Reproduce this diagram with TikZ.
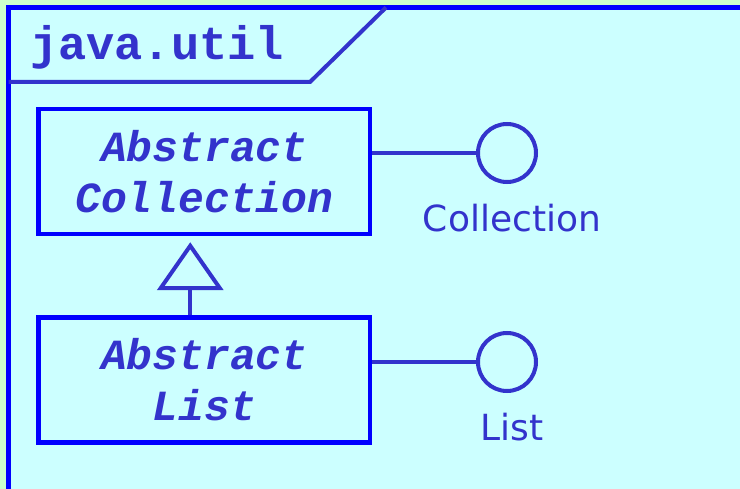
\documentclass[tikz,border=0pt]{standalone}
\usepackage{fontspec}
\setmainfont{DejaVu Sans}
\newfontfamily\umlmono{Liberation Mono}
\usepackage{tikz}
\usetikzlibrary{positioning, arrows.meta}
\definecolor{pagegreen}{HTML}{CCFFCC}
\definecolor{pkgfill}{HTML}{CCFFFF}
\definecolor{pkgblue}{HTML}{0000FF}
\definecolor{umlink}{HTML}{3333CC}

\begin{document}
\begin{tikzpicture}[
      x=1pt, y=-1pt,
      umlclass/.style={draw=pkgblue, line width=4.5pt, fill=pkgfill, minimum width=331.5pt, minimum height=125pt, align=center, inner sep=0pt, text=umlink, font=\umlmono\bfseries\itshape\fontsize{43}{51}\selectfont},
      iface/.style={circle, draw=umlink, line width=4pt, minimum size=58pt, inner sep=0pt},
      ifacename/.style={text=umlink, inner sep=0pt, font=\fontsize{36}{43}\selectfont},
      link/.style={draw=umlink, line width=4pt},
      gen/.style={link, shorten >=6pt, -{Triangle[open, length=48pt, width=66pt]}}
    ]
    \useasboundingbox (0,0) rectangle (740,489);
    \clip (0,0) rectangle (740,489);
    %% package frame with its tab
    \fill[pagegreen] (0,0) rectangle (740,489);
    \draw[pkgblue, fill=pkgfill, line width=5pt] (8.5,7.5) rectangle (780,530);
    \draw[umlink, line width=4pt] (8.5,82) -- (310,82) -- (386,7.5);
    \node[text=umlink, anchor=base west, inner sep=0pt, font=\umlmono\bfseries\fontsize{47}{50}\selectfont] (pkgname) at (30,60) {java.util};
    %% classes
    \node[umlclass] (abscoll) at (204.25,171.5) {Abstract\\Collection};
    \node[umlclass, below=79pt of abscoll] (abslist) {Abstract\\List};
    \draw[gen] ([xshift=-14pt]abslist.north) -- ([xshift=-14pt]abscoll.south);
    %% interfaces
    \node[iface] (collif) at (507,153) {};
    \node[iface] (listif) at (507,362) {};
    \node[ifacename, below=20pt of collif, xshift=5pt] (collname) {Collection};
    \node[ifacename, below=20pt of listif, xshift=5pt] (listname) {List};
    \draw[link] (abscoll.east |- collif) -- (collif);
    \draw[link] (abslist.east |- listif) -- (listif);
  \end{tikzpicture}
\end{document}
